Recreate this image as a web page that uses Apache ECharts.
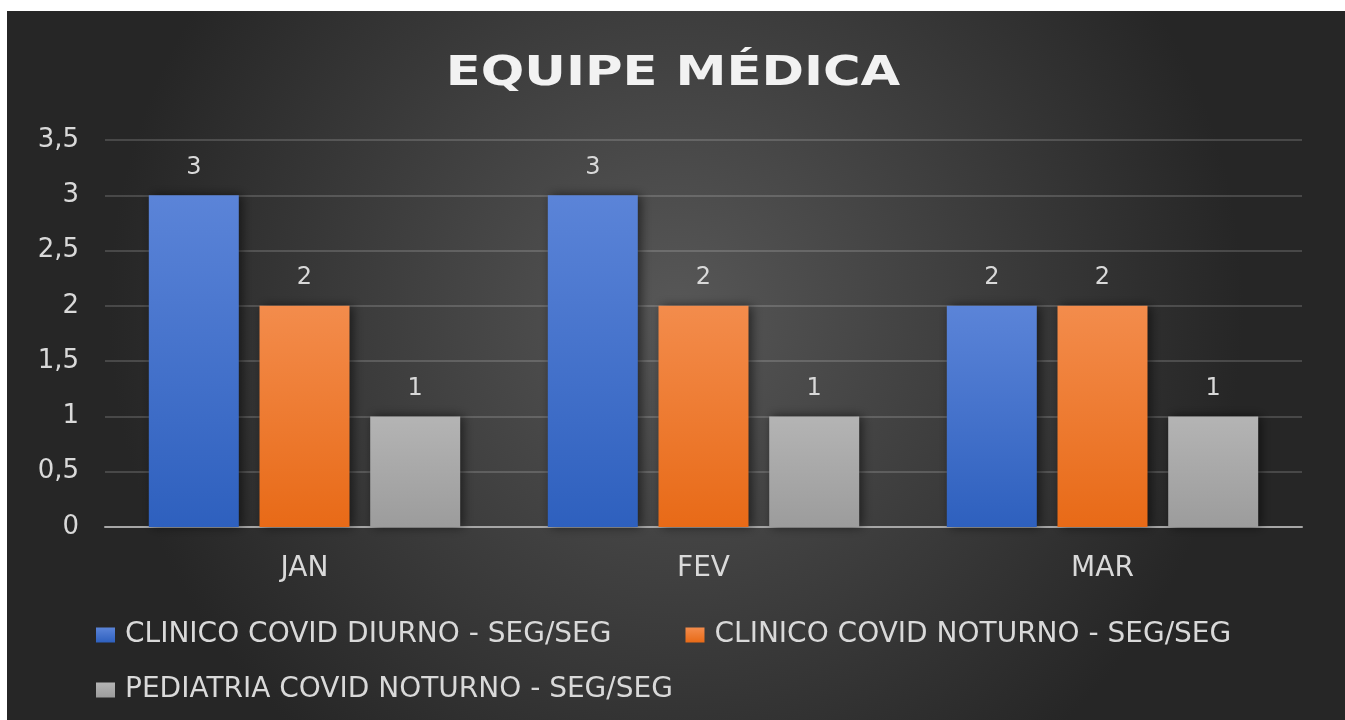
<!DOCTYPE html>
<html>
<head>
<meta charset="utf-8">
<script src="https://cdn.jsdelivr.net/npm/echarts@6/dist/echarts.min.js"></script>
<style>
html,body{margin:0;padding:0;background:#fff;width:1345px;height:720px;overflow:hidden;}
#c{position:absolute;left:7px;top:11px;width:1338px;height:709px;}
</style>
</head>
<body>
<div id="c"></div>
<script>
const titleText = 'EQUIPE MÉDICA';
const categories = ['JAN', 'FEV', 'MAR'];
const seriesNames = ['CLINICO COVID DIURNO - SEG/SEG', 'CLINICO COVID NOTURNO - SEG/SEG', 'PEDIATRIA COVID NOTURNO - SEG/SEG'];
const clinicoDiurno = [3, 3, 2];
const clinicoNoturno = [2, 2, 2];
const pediatriaNoturno = [1, 1, 1];
const yTicks = {min: 0, max: 3.5, interval: 0.5};

const chart = echarts.init(document.getElementById('c'));
const FONT = '"DejaVu Sans", sans-serif';
const grad = (top, bottom) => new echarts.graphic.LinearGradient(0, 0, 0, 1, [{offset: 0, color: top}, {offset: 1, color: bottom}]);
const colors = [grad('#5b84d8', '#2e60be'), grad('#f38c4c', '#e86a17'), grad('#b4b4b4', '#9c9c9c')];
const legendColors = ['#4474d4', '#f07c2a', '#a9a9a9'];
const dataSets = [clinicoDiurno, clinicoNoturno, pediatriaNoturno];

const option = {
  backgroundColor: new echarts.graphic.RadialGradient(0.5, 0.42, 0.8, [
    {offset: 0, color: '#575757'},
    {offset: 1, color: '#262626'}
  ]),
  graphic: [{
    type: 'text',
    x: 666, y: 63,
    scaleX: 1.25,
    style: {
      text: titleText, x: 0, y: 0, align: 'center', verticalAlign: 'middle',
      font: 'bold 41px "DejaVu Sans", sans-serif', fill: '#f2f2f2',
      shadowColor: 'rgba(0,0,0,0.7)', shadowBlur: 4, shadowOffsetX: 2, shadowOffsetY: 2
    }
  }],
  legend: [
    {
      data: [seriesNames[0], seriesNames[1]],
      left: 84, top: 605, itemWidth: 19, itemHeight: 15, itemGap: 74, icon: 'rect',
      textStyle: {fontFamily: FONT, fontSize: 28, color: '#d9d9d9', padding: [0, 0, 0, 5]}
    },
    {
      data: [seriesNames[2]],
      left: 84, top: 660, itemWidth: 19, itemHeight: 15, icon: 'rect',
      textStyle: {fontFamily: FONT, fontSize: 28, color: '#d9d9d9', padding: [0, 0, 0, 5]}
    }
  ],
  grid: {left: 98, right: 43, top: 129, bottom: 193, containLabel: false},
  xAxis: {
    type: 'category',
    data: categories,
    axisLine: {lineStyle: {color: '#a6a6a6', width: 2}},
    axisTick: {show: false},
    axisLabel: {fontFamily: FONT, fontSize: 28, color: '#d9d9d9', margin: 28}
  },
  yAxis: {
    type: 'value',
    min: yTicks.min, max: yTicks.max, interval: yTicks.interval,
    axisLine: {show: false},
    axisTick: {show: false},
    splitLine: {lineStyle: {color: 'rgba(255,255,255,0.16)', width: 2}},
    axisLabel: {
      fontFamily: FONT, fontSize: 26, color: '#d9d9d9', margin: 26,
      formatter: v => String(v).replace('.', ',')
    }
  },
  series: seriesNames.map((name, i) => ({
    name: name,
    type: 'bar',
    data: dataSets[i],
    barWidth: 90,
    barGap: '23%',
    barCategoryGap: '22%',
    itemStyle: {
      color: colors[i],
      shadowColor: 'rgba(0,0,0,0.55)', shadowBlur: 10, shadowOffsetX: 3, shadowOffsetY: 0
    },
    label: {
      show: true, position: 'top', distance: 16,
      fontFamily: FONT, fontSize: 24, color: '#d9d9d9'
    }
  })),
  color: legendColors
};
chart.setOption(option);
</script>
</body>
</html>
